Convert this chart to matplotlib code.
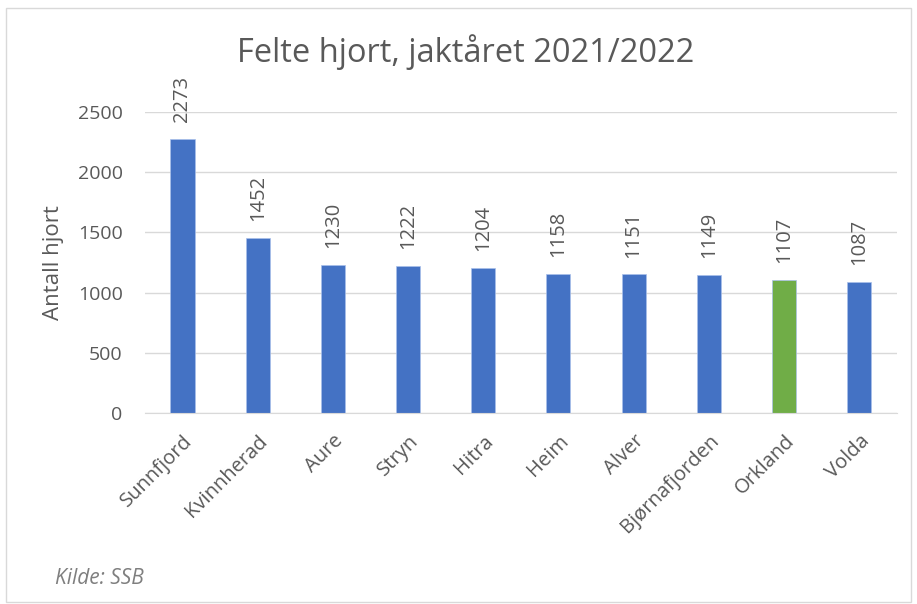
import matplotlib.pyplot as plt
from matplotlib.patches import Rectangle

kommuner = ["Sunnfjord", "Kvinnherad", "Aure", "Stryn", "Hitra", "Heim",
            "Alver", "Bjørnafjorden", "Orkland", "Volda"]
felte = [2273, 1452, 1230, 1222, 1204, 1158, 1151, 1149, 1107, 1087]
farger = ["#4472c4"] * 8 + ["#70ad47", "#4472c4"]
yticks = [0, 500, 1000, 1500, 2000, 2500]

plt.rcParams['font.family'] = ['Open Sans', 'DejaVu Sans']
tekst = "#595959"

fig = plt.figure(figsize=(9.17, 6.04), dpi=100)
ax = fig.add_axes([0.158, 0.316, 0.82, 0.499])

x = range(len(kommuner))
bars = ax.bar(x, felte, width=0.32, color=farger, edgecolor="#a9c0ea", linewidth=0.5, zorder=3)
for i, v in enumerate(felte):
    ax.annotate(str(v), (i, v), xytext=(0, 12), textcoords="offset points",
                rotation=90, ha="center", va="bottom", fontsize=14.5, color=tekst,
                annotation_clip=False)

ax.set_xlim(-0.5, len(kommuner) - 0.5)
ax.set_ylim(0, 2500)
ax.set_yticks(yticks)
ax.set_yticklabels([str(t) for t in yticks], fontsize=14, color=tekst)
ax.set_xticks(list(x))
ax.set_xticklabels(kommuner, rotation=45, ha="right", rotation_mode="anchor",
                   fontsize=14.5, color=tekst)
ax.tick_params(axis="both", length=0)
ax.tick_params(axis="y", pad=16)
ax.tick_params(axis="x", pad=13)
ax.grid(axis="y", color="#d9d9d9", linewidth=1, zorder=0)
for s in ["top", "right", "left"]:
    ax.spines[s].set_visible(False)
ax.spines["bottom"].set_color("#d9d9d9")
ax.spines["bottom"].set_zorder(4)

ax.set_ylabel("Antall hjort", fontsize=16, color=tekst, labelpad=10)
fig.text(0.508, 0.913, "Felte hjort, jaktåret 2021/2022", ha="center", va="center",
         fontsize=23.5, color=tekst)
fig.text(0.06, 0.043, "Kilde: SSB", ha="left", va="center", fontsize=15,
         style="italic", color="#7f7f7f")

fig.patches.append(Rectangle((0.006, 0.003), 0.988, 0.983, transform=fig.transFigure,
                             fill=False, edgecolor="#d9d9d9", linewidth=1))

fig.savefig("out.png", dpi=100)
